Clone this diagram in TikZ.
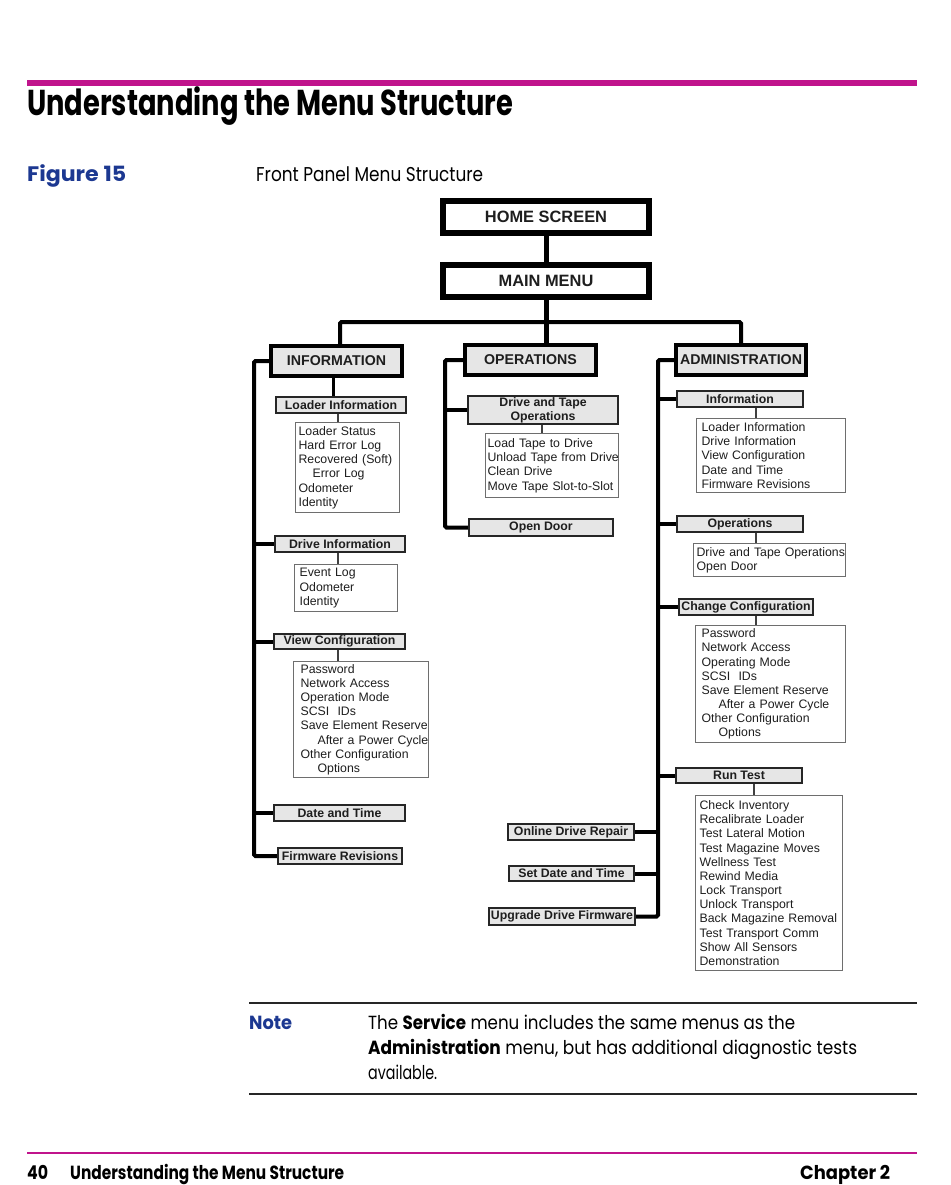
\documentclass[tikz,border=0pt]{standalone}
\usepackage{fontspec}
\usepackage{graphicx}
\usetikzlibrary{backgrounds}
\newfontfamily\dfont{Liberation Sans}
\newfontfamily\pfont{Poppins}
\definecolor{hpmag}{RGB}{192,20,140}
\definecolor{hpblue}{RGB}{28,56,145}
\definecolor{boxgrey}{RGB}{230,230,230}
\definecolor{ink}{RGB}{30,30,30}
\definecolor{listline}{RGB}{110,110,110}
\newcommand\li[1]{\mbox{#1}}
\begin{document}
\begin{tikzpicture}[x=1pt,y=-1pt,
 topbox/.style={draw=black, line width=6pt, fill=white, minimum width=206pt, minimum height=32pt, inner sep=0pt, text=ink, font=\dfont\bfseries\fontsize{16.4}{18}\selectfont},
 secbox/.style={draw=black, line width=4pt, fill=boxgrey, inner sep=0pt, text=ink, minimum height=30pt, font=\dfont\bfseries\fontsize{14.2}{16}\selectfont},
 subbox/.style={draw=black!85, line width=2pt, fill=boxgrey, inner sep=0pt, text=ink, align=center, font=\dfont\bfseries\fontsize{12.3}{14}\selectfont},
 listbox/.style={draw=listline, line width=1.2pt, fill=white, anchor=north west, inner ysep=0pt, align=left, text=ink, font=\dfont\fontsize{12.3}{14.15}\selectfont},
 spine/.style={draw=black, line width=4pt, rounded corners=1.5pt},
 link/.style={draw=black!75, line width=1.5pt},
 pagetext/.style={anchor=base west, inner sep=0pt, text=black},
]
\useasboundingbox (0,0) rectangle (950,1185);

% page header
\fill[hpmag] (27,80) rectangle (917,86.5);
\node[pagetext] (title) at (27,116) {\pfont\bfseries\fontsize{36}{40}\selectfont\resizebox{486pt}{\height}{Understanding the Menu Structure}};
\node[pagetext, text=hpblue] (fig) at (27,182) {\pfont\bfseries\fontsize{21}{24}\selectfont\resizebox{99pt}{\height}{Figure 15}};
\node[pagetext] (caption) at (256,182) {\pfont\fontsize{20}{24}\selectfont\resizebox{227pt}{\height}{Front Panel Menu Structure}};

% top level
\node[topbox] (home) at (546,217) {HOME SCREEN};
\node[topbox] (main) at (546,281) {MAIN MENU};
\node[secbox, minimum width=131pt] (info) at (336.5,361) {INFORMATION};
\node[secbox, minimum width=131pt] (ops) at (530.5,360) {OPERATIONS};
\node[secbox, minimum width=130pt] (admin) at (741,360) {ADMINISTRATION};

% information branch
\node[subbox, minimum width=130pt, minimum height=16pt] (linfo) at (341,405) {Loader Information};
\node[subbox, minimum width=130pt, minimum height=16pt] (dinfo) at (340,544) {Drive Information};
\node[subbox, minimum width=131pt, minimum height=15pt] (vconf) at (339.5,641.5) {View Configuration};
\node[subbox, minimum width=131pt, minimum height=16pt] (dtime) at (339.5,813) {Date and Time};
\node[subbox, minimum width=124pt, minimum height=16pt] (fwrev) at (340,856) {Firmware Revisions};

\node[listbox, inner xsep=3pt, text width=97.8pt, minimum height=90pt] (llist) at (295,422)
 {\li{Loader Status}\\\li{Hard Error Log}\\\li{Recovered (Soft)}\\\li{\hspace*{14pt}Error Log}\\\li{Odometer}\\\li{Identity}};
\node[listbox, inner xsep=5pt, text width=92.8pt, minimum height=47pt] (dlist) at (294,564)
 {\li{Event Log}\\\li{Odometer}\\\li{Identity}};
\node[listbox, inner xsep=7pt, text width=120.8pt, minimum height=116pt] (vlist) at (293,661)
 {\li{Password}\\\li{Network Access}\\\li{Operation Mode}\\\li{SCSI\ \ IDs}\\\li{Save Element Reserve}\\\li{\hspace*{17pt}After a Power Cycle}\\\li{Other Configuration}\\\li{\hspace*{17pt}Options}};

% operations branch
\node[subbox, minimum width=150pt, minimum height=28pt] (dtops) at (543,410) {Drive and Tape\\Operations};
\node[subbox, minimum width=144pt, minimum height=17pt] (odoor) at (541,527.5) {Open Door};
\node[listbox, inner xsep=2pt, text width=128.8pt, minimum height=64pt] (dtlist) at (485,433)
 {\li{Load Tape to Drive}\\\li{Unload Tape from Drive}\\\li{Clean Drive}\\\li{Move Tape Slot-to-Slot}};

% administration branch
\node[subbox, minimum width=126pt, minimum height=16pt] (ainfo) at (740,399) {Information};
\node[subbox, minimum width=126pt, minimum height=16pt] (aops) at (740,524) {Operations};
\node[subbox, minimum width=134pt, minimum height=16pt] (aconf) at (746,607) {Change Configuration};
\node[subbox, minimum width=126pt, minimum height=15pt] (rtest) at (739,775.5) {Run Test};
\node[subbox, minimum width=126pt, minimum height=16pt] (odr) at (571,832) {Online Drive Repair};
\node[subbox, minimum width=125pt, minimum height=15pt] (sdt) at (571.5,873.5) {Set Date and Time};
\node[subbox, minimum width=146pt, minimum height=17pt] (udf) at (562,916.5) {Upgrade Drive Firmware};

\node[listbox, inner xsep=5pt, text width=138.8pt, minimum height=74pt] (ailist) at (696,418)
 {\li{Loader Information}\\\li{Drive Information}\\\li{View Configuration}\\\li{Date and Time}\\\li{Firmware Revisions}};
\node[listbox, inner xsep=3pt, text width=145.8pt, minimum height=33pt] (aolist) at (693,543)
 {\li{Drive and Tape Operations}\\\li{Open Door}};
\node[listbox, inner xsep=6pt, text width=137.8pt, minimum height=117pt] (aclist) at (695,625)
 {\li{Password}\\\li{Network Access}\\\li{Operating Mode}\\\li{SCSI\ \ IDs}\\\li{Save Element Reserve}\\\li{\hspace*{17pt}After a Power Cycle}\\\li{Other Configuration}\\\li{\hspace*{17pt}Options}};
\node[listbox, inner xsep=4pt, text width=138.8pt, minimum height=175pt] (rtlist) at (695,795)
 {\li{Check Inventory}\\\li{Recalibrate Loader}\\\li{Test Lateral Motion}\\\li{Test Magazine Moves}\\\li{Wellness Test}\\\li{Rewind Media}\\\li{Lock Transport}\\\li{Unlock Transport}\\\li{Back Magazine Removal}\\\li{Test Transport Comm}\\\li{Show All Sensors}\\\li{Demonstration}};

% connectors
\begin{scope}[on background layer]
\draw[spine, line width=5pt] (home.south) -- (main.north);
\draw[spine, line width=5pt] (main.south) -- (main.south |- ops.north);
\coordinate (busL) at (340,322);
\coordinate (busR) at (741,322);
\draw[spine] (info.north -| busL) -- (busL) -- (busR) -- (admin.north -| busR);

\coordinate (sI) at (254,361);
\draw[spine] (info.west) -- (sI) |- (fwrev.west);
\draw[spine] (dinfo.west -| sI) -- (dinfo.west);
\draw[spine] (vconf.west -| sI) -- (vconf.west);
\draw[spine] (dtime.west -| sI) -- (dtime.west);
\coordinate (cI) at (333,0);
\draw[spine, line width=3pt] (info.south -| cI) -- (linfo.north -| cI);
\coordinate (cI2) at (338,0);
\draw[link] (linfo.south -| cI2) -- (llist.north -| cI2);
\draw[link] (dinfo.south -| cI2) -- (dlist.north -| cI2);
\draw[link] (vconf.south -| cI2) -- (vlist.north -| cI2);

\coordinate (sO) at (445,360);
\draw[spine] (ops.west) -- (sO) |- (odoor.west);
\draw[spine] (dtops.west -| sO) -- (dtops.west);
\coordinate (cO) at (542,0);
\draw[link] (dtops.south -| cO) -- (dtlist.north -| cO);

\coordinate (sA) at (658,360);
\draw[spine] (admin.west) -- (sA) |- (udf.east);
\draw[spine] (ainfo.west -| sA) -- (ainfo.west);
\draw[spine] (aops.west -| sA) -- (aops.west);
\draw[spine] (aconf.west -| sA) -- (aconf.west);
\draw[spine] (rtest.west -| sA) -- (rtest.west);
\draw[spine] (odr.east -| sA) -- (odr.east);
\draw[spine] (sdt.east -| sA) -- (sdt.east);
\coordinate (cA) at (756,0);
\coordinate (cA2) at (754,0);
\draw[link] (ainfo.south -| cA) -- (ailist.north -| cA);
\draw[link] (aops.south -| cA) -- (aolist.north -| cA);
\draw[link] (aconf.south -| cA) -- (aclist.north -| cA);
\draw[link] (rtest.south -| cA2) -- (rtlist.north -| cA2);
\end{scope}

% note
\draw[line width=2pt, black!85] (249,1003) -- (917,1003);
\node[pagetext, text=hpblue] (notelabel) at (249,1029) {\pfont\bfseries\fontsize{19}{24}\selectfont\resizebox{43pt}{\height}{Note}};
\node[pagetext] (note1) at (368,1029) {\pfont\fontsize{19}{24}\selectfont\resizebox{427pt}{\height}{The \textbf{Service} menu includes the same menus as the}};
\node[pagetext] (note2) at (368,1054) {\pfont\fontsize{19}{24}\selectfont\resizebox{489pt}{\height}{\textbf{Administration} menu, but has additional diagnostic tests}};
\node[pagetext] (note3) at (368,1079) {\pfont\fontsize{19}{24}\selectfont\resizebox{69pt}{\height}{available.}};
\draw[line width=2pt, black!85] (249,1094) -- (917,1094);

% footer
\draw[line width=2pt, hpmag] (27,1153) -- (917,1153);
\node[pagetext] (pgno) at (27,1179) {\pfont\bfseries\fontsize{19}{24}\selectfont\resizebox{21pt}{\height}{40}};
\node[pagetext] (foot) at (70,1179) {\pfont\bfseries\fontsize{19}{24}\selectfont\resizebox{274pt}{\height}{Understanding the Menu Structure}};
\node[pagetext] (chap) at (800,1179) {\pfont\bfseries\fontsize{19}{24}\selectfont\resizebox{90pt}{\height}{Chapter 2}};
\end{tikzpicture}
\end{document}
